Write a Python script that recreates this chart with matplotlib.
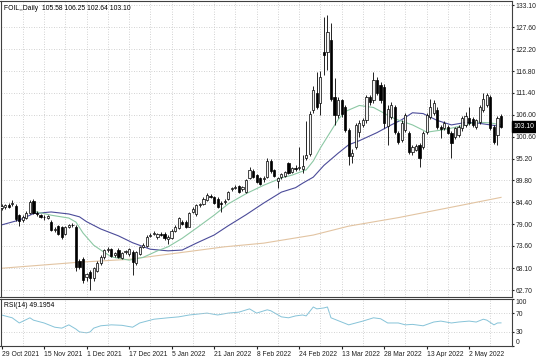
import numpy as np
import matplotlib
matplotlib.use("Agg")
import matplotlib.pyplot as plt

# daily candles, 29 Oct 2021 .. 10 May 2022
opens = [83.0, 83.2, 83.6, 84.0, 83.5, 81.2, 80.0, 80.5, 81.8, 84.8,
         81.8, 81.2, 80.8, 80.6, 79.5, 77.6, 78.5, 78.2, 76.5, 78.3,
         78.8, 78.3, 69.8, 70.3, 66.0, 67.2, 65.8, 67.5, 69.4, 70.8,
         72.5, 72.8, 71.3, 72.6, 70.6, 72.0, 71.5, 72.2, 69.5, 71.6,
         73.4, 73.6, 76.1, 76.6, 75.7, 76.5, 76.6, 75.3, 75.6, 77.2,
         78.0, 79.4, 79.6, 78.4, 82.0, 81.4, 83.6, 84.0, 85.0, 86.0,
         85.6, 85.3, 84.3, 84.4, 85.2, 87.6, 88.0, 88.3, 87.7, 86.9,
         90.4, 92.2, 91.1, 90.4, 90.2, 90.6, 94.6, 92.3, 89.6, 90.6,
         91.0, 94.0, 91.8, 92.8, 92.8, 92.5, 95.3, 96.2, 107.2, 111.4,
         108.9, 121.5, 121.5, 124.5, 110.3, 105.9, 109.6, 107.8, 102.2, 95.7,
         98.0, 101.8, 103.6, 104.7, 110.4, 109.6, 114.6, 113.3, 112.9, 103.2,
         105.5, 107.8, 101.6, 99.8, 102.3, 101.5, 96.7, 97.4, 98.5, 98.0,
         101.8, 105.5, 106.5, 107.2, 103.0, 102.7, 103.0, 101.6, 100.5, 101.1,
         102.8, 103.6, 105.2, 105.0, 103.0, 104.3, 107.3, 108.4, 110.4, 103.0,
         101.1, 105.58]
highs = [84.0, 84.0, 84.2, 85.0, 84.0, 81.5, 81.3, 82.2, 85.0, 85.2,
         82.3, 81.6, 81.3, 81.2, 80.0, 78.4, 78.8, 78.5, 78.6, 79.0,
         79.2, 78.8, 70.5, 70.8, 67.0, 67.6, 68.5, 69.8, 71.3, 72.8,
         73.3, 73.2, 72.2, 73.0, 72.1, 72.6, 73.1, 72.5, 72.3, 73.7,
         74.3, 76.2, 76.8, 77.2, 76.9, 77.0, 77.0, 76.2, 77.7, 78.8,
         80.8, 80.0, 80.0, 82.0, 83.2, 83.9, 84.3, 85.7, 86.6, 86.5,
         86.0, 85.6, 84.8, 85.2, 87.2, 88.2, 88.6, 88.6, 88.5, 90.2,
         93.2, 92.6, 91.4, 90.7, 91.0, 95.4, 95.0, 92.6, 90.6, 91.6,
         92.2, 94.4, 93.1, 93.5, 98.0, 96.0, 104.5, 107.0, 113.0, 116.5,
         116.8, 130.1, 130.6, 128.7, 115.1, 110.3, 110.0, 108.3, 102.8, 97.5,
         104.0, 104.6, 105.3, 111.0, 111.0, 116.6, 115.3, 114.0, 113.5, 108.5,
         109.2, 108.5, 102.0, 104.6, 106.5, 102.0, 98.5, 98.8, 99.0, 102.0,
         106.5, 109.9, 109.6, 108.0, 103.5, 104.5, 103.4, 102.0, 103.1, 103.4,
         105.8, 106.6, 107.9, 105.5, 105.0, 108.5, 111.4, 111.4, 111.0, 103.5,
         105.8, 106.25]
lows = [82.5, 82.8, 83.0, 83.5, 79.8, 78.5, 79.5, 80.2, 81.5, 81.5,
        81.0, 80.4, 80.0, 80.2, 77.3, 77.0, 76.2, 75.3, 76.2, 78.0,
        78.3, 67.5, 68.0, 64.5, 65.0, 62.8, 65.0, 67.2, 69.0, 70.5,
        72.0, 70.9, 71.0, 70.6, 70.3, 71.7, 71.2, 66.5, 69.0, 71.3,
        73.0, 73.3, 75.8, 76.2, 75.4, 76.0, 75.2, 74.2, 75.3, 77.0,
        77.8, 78.7, 78.0, 78.2, 81.7, 81.0, 83.3, 83.8, 84.7, 85.4,
        84.0, 82.9, 82.0, 84.0, 85.0, 87.2, 87.6, 86.6, 87.3, 86.6,
        90.2, 90.4, 89.2, 88.6, 89.5, 90.5, 91.7, 90.6, 88.0, 90.2,
        90.7, 91.4, 91.5, 92.0, 92.3, 91.7, 94.8, 95.8, 106.5, 107.5,
        105.9, 115.8, 117.1, 109.3, 103.5, 105.3, 105.5, 101.8, 93.6, 94.1,
        97.5, 100.5, 103.0, 104.0, 108.5, 109.0, 110.8, 109.0, 102.8, 98.5,
        105.0, 101.2, 98.8, 99.3, 101.8, 96.2, 96.0, 97.0, 93.1, 97.5,
        101.2, 105.0, 106.0, 102.5, 100.3, 102.2, 101.2, 95.3, 100.0, 100.6,
        102.0, 103.0, 103.5, 103.0, 102.6, 103.8, 106.8, 107.8, 102.2, 98.8,
        98.5, 102.64]
closes = [83.5, 83.7, 83.3, 84.3, 80.3, 79.8, 80.8, 81.8, 84.5, 81.8,
          81.4, 80.7, 80.7, 80.9, 77.6, 77.9, 76.5, 75.8, 78.3, 78.7,
          78.7, 68.4, 68.5, 65.3, 66.6, 65.8, 68.2, 69.4, 71.0, 72.5,
          72.9, 71.2, 71.8, 70.9, 71.8, 72.3, 72.8, 69.6, 72.0, 73.4,
          73.9, 75.8, 76.3, 76.8, 76.6, 76.4, 75.5, 75.8, 77.4, 78.4,
          80.4, 79.0, 78.3, 81.7, 82.8, 83.6, 83.9, 85.3, 86.2, 85.7,
          84.3, 83.2, 84.0, 84.8, 86.9, 87.8, 88.2, 86.9, 88.1, 89.9,
          92.4, 90.6, 89.4, 88.9, 90.5, 94.6, 92.0, 90.8, 90.3, 91.3,
          91.9, 91.7, 92.8, 92.5, 93.2, 93.3, 96.0, 106.3, 112.0, 108.0,
          115.3, 120.8, 126.4, 109.8, 106.0, 109.6, 106.3, 102.3, 95.8, 96.5,
          103.4, 104.0, 104.6, 110.3, 109.2, 114.6, 111.5, 109.7, 104.0, 107.5,
          108.3, 101.8, 99.4, 104.0, 105.9, 96.7, 98.0, 98.4, 95.4, 101.5,
          105.9, 107.9, 108.9, 103.0, 102.4, 104.0, 101.6, 99.1, 102.7, 103.0,
          105.2, 105.8, 104.0, 103.5, 104.6, 107.8, 110.0, 110.8, 102.8, 99.4,
          105.2, 103.10]

# moving averages, sampled at these bars
fast_ma_bars = [9, 14, 19, 21, 23, 26, 28, 31, 36, 40, 44, 47, 51, 55, 60, 64, 69, 74,
                79, 82, 86, 88, 90, 93, 95, 97, 101, 105, 108, 110, 112, 116, 119, 120,
                124, 127, 131, 134, 138, 141]
fast_ma = [82.2, 81.2, 80.5, 79.5, 76.8, 73.8, 72.6, 70.9, 70.1, 70.8, 72.4, 73.4, 75.5,
           78.0, 81.2, 84.0, 86.5, 88.6, 90.4, 91.1, 92.4, 94.6, 97.8, 102.0, 104.8,
           106.8, 108.3, 107.8, 106.4, 105.4, 104.7, 103.5, 102.2, 101.7, 102.2, 102.7,
           103.5, 104.2, 104.0, 103.5]
slow_ma_bars = [0, 5, 9, 14, 19, 22, 24, 28, 33, 37, 42, 47, 51, 55, 60, 64, 69, 74, 79,
                83, 85, 88, 91, 95, 98, 101, 106, 110, 113, 116, 119, 123, 127, 131, 134,
                138, 141]
slow_ma = [78.8, 80.0, 81.6, 82.0, 81.5, 80.8, 79.6, 77.8, 76.1, 74.4, 72.8, 72.4, 72.6,
           74.3, 76.3, 78.6, 81.3, 84.2, 86.9, 88.0, 89.1, 90.6, 93.5, 96.5, 98.6, 99.6,
           101.6, 103.5, 104.8, 106.5, 106.3, 104.6, 103.5, 104.1, 104.0, 103.5, 103.1]
long_ma_bars = [0, 22, 36, 50, 63, 74, 88, 98, 112, 126, 141]
long_ma = [68.1, 69.6, 70.3, 71.9, 73.4, 74.3, 76.3, 78.5, 80.6, 83.0, 85.6]

rsi_bars = [0, 3, 5, 8, 9, 12, 15, 17, 19, 21, 22, 24, 25, 26, 28, 31, 34, 37, 39, 43,
            47, 50, 53, 58, 61, 64, 67, 70, 72, 75, 76, 79, 81, 83, 85, 86, 88, 89, 91,
            92, 93, 94, 96, 98, 100, 102, 105, 107, 109, 112, 114, 116, 119, 122, 124,
            127, 129, 132, 134, 136, 137, 139, 140, 141]
rsi = [66, 60, 49, 60, 55, 49, 40, 38, 45, 36, 30, 28, 30, 38, 43, 45, 44, 40, 49, 57,
       60, 62, 66, 70, 66, 70, 72, 79, 70, 77, 75, 62, 60, 64, 66, 64, 83, 79, 81, 83,
       60, 57, 51, 45, 49, 53, 60, 58, 49, 49, 45, 46, 43, 51, 53, 49, 51, 53, 51, 57,
       55, 45, 49, 49.1954]

date_labels = ['29 Oct 2021', '15 Nov 2021', '1 Dec 2021', '17 Dec 2021', '5 Jan 2022',
               '21 Jan 2022', '8 Feb 2022', '24 Feb 2022', '13 Mar 2022', '28 Mar 2022',
               '13 Apr 2022', '2 May 2022']
price_ticks = [133.10, 127.60, 122.20, 116.80, 111.40, 106.00, 100.60, 95.20,
               89.80, 84.40, 79.00, 73.60, 68.10, 62.70]

o = np.array(opens)
h = np.array(highs)
l = np.array(lows)
c = np.array(closes)
x = np.arange(len(c))
n = len(c)

plt.rcParams['font.family'] = 'Liberation Sans'
fs = 4.9
grid_kw = dict(color='#c4c4c4', linestyle=(0, (1, 2)), linewidth=0.6)
frame = '#404040'

fig = plt.figure(figsize=(5.36, 3.57), dpi=100)
ax = fig.add_axes([0.5 / 536, 60 / 357, 511.5 / 536, 296 / 357])
ax2 = fig.add_axes([0.5 / 536, 11 / 357, 511.5 / 536, 47 / 357])

for a in (ax, ax2):
    a.set_xlim(-0.3, n + 2.1)
    for s in a.spines.values():
        s.set_color(frame)
        s.set_linewidth(0.8)
    a.set_xticks(np.arange(6, n + 2, 6), minor=True)
    a.grid(which='minor', axis='x', **grid_kw)
    a.yaxis.tick_right()
    a.tick_params(axis='y', labelsize=fs, length=1.5, pad=1.0, colors='#202020')
    a.tick_params(axis='x', which='both', length=0)
    a.set_axisbelow(True)

# main panel
ax.set_ylim(61.0, 134.1)
ax.set_yticks(price_ticks)
ax.set_yticklabels(['%.2f' % v for v in price_ticks])
ax.grid(which='major', axis='y', **grid_kw)
ax.set_xticks([])

up = c >= o
body_lo = np.minimum(o, c)
body_h = np.maximum(np.abs(c - o), 0.15)
ax.vlines(x, l, h, color='black', linewidth=0.6, zorder=3)
ax.bar(x[up], body_h[up], bottom=body_lo[up], width=0.62, color='#f2f2f2',
       edgecolor='black', linewidth=0.5, zorder=4)
ax.bar(x[~up], body_h[~up], bottom=body_lo[~up], width=0.62, color='black',
       edgecolor='black', linewidth=0.5, zorder=4)

ax.plot(long_ma_bars, long_ma, color='#e2c4a2', linewidth=0.8, zorder=2)
ax.plot(slow_ma_bars, slow_ma, color='#4b4b99', linewidth=0.8, zorder=2)
ax.plot(fast_ma_bars, fast_ma, color='#8cc8a4', linewidth=0.8, zorder=2)

ax.text(1.003, closes[-1], '%.2f' % closes[-1], transform=ax.get_yaxis_transform(),
        fontsize=fs, color='white', va='center', ha='left', clip_on=False,
        bbox=dict(boxstyle='square,pad=0.25', fc='black', ec='black'))
ax.text(3 / 511.5, 1 - 4 / 296, 'FOIL,,Daily  %.2f %.2f %.2f %.2f'
        % (opens[-1], highs[-1], lows[-1], closes[-1]),
        transform=ax.transAxes, fontsize=fs, va='top', ha='left', color='black')

# RSI panel
ax2.set_ylim(0, 100)
ax2.plot(rsi_bars, rsi, color='#86c3d8', linewidth=0.7)
for lvl in (70, 30):
    ax2.axhline(lvl, **grid_kw)
ax2.set_yticks([100, 70, 30, 0])
ax2.set_yticklabels(['100', '70', '30', '0'])
tl = ax2.get_yticklabels()
tl[0].set_va('top')
tl[-1].set_va('bottom')
ax2.set_xticks(np.arange(0, n, 12))
ax2.set_xticklabels(date_labels, fontsize=fs, ha='left')
ax2.tick_params(axis='x', which='major', length=2, pad=1.5, colors='#202020')
ax2.text(3 / 511.5, 1 - 3 / 47, 'RSI(14) %.4f' % rsi[-1], transform=ax2.transAxes,
         fontsize=fs, va='top', ha='left', color='black')

fig.savefig('out.png', dpi=100)
